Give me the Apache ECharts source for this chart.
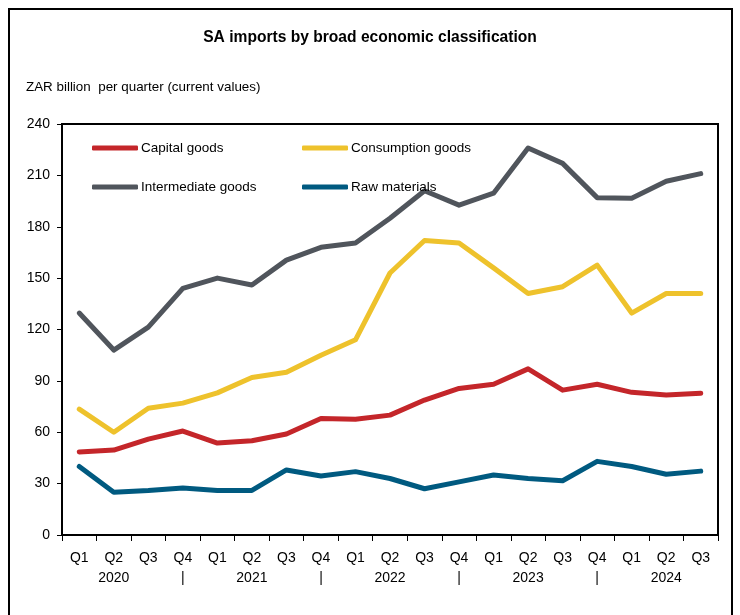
<!DOCTYPE html>
<html>
<head>
<meta charset="utf-8">
<script src="https://cdn.jsdelivr.net/npm/echarts@6/dist/echarts.min.js"></script>
<style>
html,body{margin:0;padding:0;background:#fff;}
#chart{width:740px;height:615px;}
</style>
</head>
<body>
<div id="chart"></div>
<script>
var quarters = ['Q1','Q2','Q3','Q4','Q1','Q2','Q3','Q4','Q1','Q2','Q3','Q4','Q1','Q2','Q3','Q4','Q1','Q2','Q3'];
var yearRow = ['','2020','','|','','2021','','|','','2022','','|','','2023','','|','','2024',''];
var capitalGoods = [48.5,49.6,56,60.7,53.7,55,59,68,67.6,70,78.8,85.6,88,97,84.6,88,83.3,81.7,82.8];
var consumptionGoods = [73.5,60,74,77,83,92,95,105,114,153,172,170.5,156,141,145,157.6,129.6,141,141];
var intermediateGoods = [129.6,108,121.4,144,150,146,160.5,168,170.5,185,201,192.6,199.6,226,217,197,196.7,206.6,211];
var rawMaterials = [40,25,26,27.5,26,26,38,34.5,37,33,27,31,35,33,31.7,43,40,35.5,37.3];
var yTicks = {min:0, max:240, interval:30};

var FONT = '"Liberation Sans Narrow","Liberation Sans",Arial,sans-serif';
var categories = quarters.map(function(q,i){ return q + '\n' + yearRow[i]; });

function mkSeries(name, data, color){
  return {
    name: name, type: 'line', data: data,
    showSymbol: false, symbol: 'none', smooth: false,
    lineStyle: {color: color, width: 5, cap: 'round', join: 'round'},
    itemStyle: {color: color},
    emphasis: {disabled: true}, animation: false
  };
}
function mkLegend(name, left, top){
  return {
    data: [name], left: left, top: top, itemWidth: 46, itemHeight: 5,
    itemGap: 0, padding: 0,
    icon: 'roundRect',
    textStyle: {fontFamily: FONT, fontSize: 13.5, color: '#000', padding: [0,0,0,-2]},
    selectedMode: false
  };
}

var chart = echarts.init(document.getElementById('chart'), null, {renderer: 'canvas'});
chart.setOption({
  animation: false,
  backgroundColor: '#fff',
  title: [
    {text: 'SA imports by broad economic classification', left: 'center', top: 30, padding: [0,14,0,0],
     textStyle: {fontFamily: FONT, fontSize: 15.6, fontWeight: 'bold', color: '#000'}},
    {text: 'ZAR billion  per quarter (current values)', left: 26, top: 81, padding: 0,
     textStyle: {fontFamily: FONT, fontSize: 13.4, fontWeight: 'normal', color: '#000'}}
  ],
  graphic: [
    {type: 'polyline', shape: {points: [[9,615],[9,9],[732,9],[732,615]]},
     style: {stroke: '#000', lineWidth: 2, fill: null}, silent: true}
  ],
  legend: [
    mkLegend('Capital goods', 92, 141),
    mkLegend('Consumption goods', 302, 141),
    mkLegend('Intermediate goods', 92, 180),
    mkLegend('Raw materials', 302, 180)
  ],
  grid: {left: 62, right: 22, top: 124, bottom: 80, show: true, borderColor: '#000', borderWidth: 2, containLabel: false},
  xAxis: {
    type: 'category', data: categories, boundaryGap: true,
    axisLine: {show: true, lineStyle: {color: '#000', width: 2}},
    axisTick: {show: true, interval: 0, inside: false, length: 6, lineStyle: {color: '#000', width: 1}},
    axisLabel: {interval: 0, fontFamily: FONT, fontSize: 14, color: '#000', margin: 13, lineHeight: 20}
  },
  yAxis: {
    type: 'value', min: yTicks.min, max: yTicks.max, interval: yTicks.interval,
    splitLine: {show: false},
    axisLine: {show: true, lineStyle: {color: '#000', width: 2}},
    axisTick: {show: true, inside: false, length: 5, lineStyle: {color: '#000', width: 1}},
    axisLabel: {fontFamily: FONT, fontSize: 14, color: '#000', margin: 12}
  },
  series: [
    mkSeries('Capital goods', capitalGoods, '#C4262A'),
    mkSeries('Consumption goods', consumptionGoods, '#EEC22C'),
    mkSeries('Intermediate goods', intermediateGoods, '#50555C'),
    mkSeries('Raw materials', rawMaterials, '#005A80')
  ]
});
</script>
</body>
</html>
